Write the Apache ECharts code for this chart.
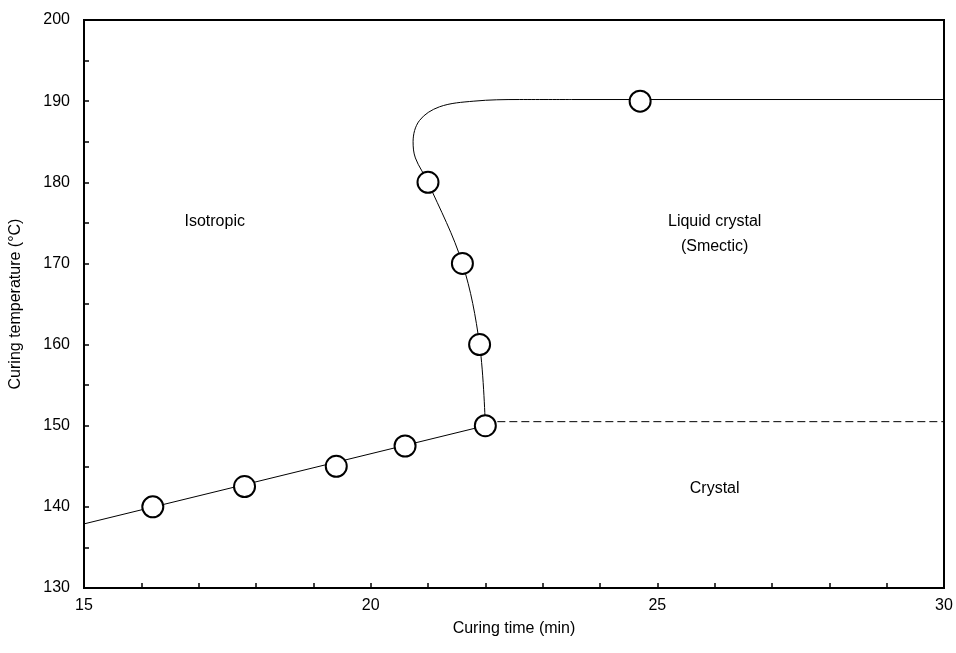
<!DOCTYPE html>
<html>
<head>
<meta charset="utf-8">
<script src="https://cdn.jsdelivr.net/npm/echarts@6/dist/echarts.min.js"></script>
<style>
  html, body { margin: 0; padding: 0; background: #fff; }
  #chart { width: 956px; height: 653px; }
</style>
</head>
<body>
<div id="chart"></div>
<script>
// Measured transition points (curing time in min, curing temperature in °C)
const measured = [
  [16.2, 140], [17.8, 142.5], [19.4, 145], [20.6, 147.5], [22.0, 150],
  [21.9, 160], [21.6, 170], [21.0, 180], [24.7, 190]
];
// Isotropic / crystal boundary (straight fit)
const crystalLine = [[15, 137.9], [22.0, 150]];
// Isotropic / liquid crystal boundary
const lcCurve = [
  [22.0, 150], [21.9, 160], [21.6, 170], [21.0, 180], [20.78, 183],
  [20.74, 185], [20.85, 187.6], [21.2, 189.3], [21.8, 190.0], [22.6, 190.2], [23.5, 190.2]
];
const lcFlat = [[23.5, 190.2], [30, 190.2]];
// Liquid crystal / crystal boundary (dashed)
const smecticCrystal = [[22.0, 150.5], [30, 150.5]];
// Region labels: [time, temperature, text]
const regionLabels = [
  [17.28, 175.2, 'Isotropic'],
  [26.0, 175.2, 'Liquid crystal'],
  [26.0, 172.1, '(Smectic)'],
  [26.0, 142.2, 'Crystal']
];

const font = 'Arial, "Liberation Sans", sans-serif';
const chart = echarts.init(document.getElementById('chart'));

const lineStyle = { color: '#000', width: 1 };

chart.setOption({
  animation: false,
  grid: {
    left: 84, right: 12, top: 20, bottom: 65,
    show: true, borderColor: '#000', borderWidth: 2, backgroundColor: 'transparent'
  },
  xAxis: {
    type: 'value', min: 15, max: 30, interval: 5,
    name: 'Curing time (min)', nameLocation: 'middle', nameGap: 33,
    nameTextStyle: { fontFamily: font, fontSize: 16, color: '#000' },
    axisLine: { show: true, lineStyle: { color: '#000', width: 2 } },
    axisTick: { show: true, inside: true, length: 5, lineStyle: { color: '#000', width: 1.5 } },
    minorTick: { show: true, splitNumber: 5, length: 5, lineStyle: { color: '#000', width: 1.5 } },
    axisLabel: { fontFamily: font, fontSize: 16, color: '#000', margin: 10 },
    splitLine: { show: false }
  },
  yAxis: {
    type: 'value', min: 130, max: 200, interval: 10,
    name: 'Curing temperature (°C)', nameLocation: 'middle', nameGap: 60, nameRotate: 90,
    nameTextStyle: { fontFamily: font, fontSize: 16, color: '#000' },
    axisLine: { show: true, lineStyle: { color: '#000', width: 2 } },
    axisTick: { show: true, inside: true, length: 5, lineStyle: { color: '#000', width: 1.5 } },
    minorTick: { show: true, splitNumber: 2, length: 5, lineStyle: { color: '#000', width: 1.5 } },
    axisLabel: { fontFamily: font, fontSize: 16, color: '#000', margin: 14 },
    splitLine: { show: false }
  },
  series: [
    {
      type: 'line', data: crystalLine, showSymbol: false, symbol: 'none',
      lineStyle: lineStyle, z: 2
    },
    {
      type: 'line', data: lcCurve, showSymbol: false, symbol: 'none', smooth: 0.35,
      lineStyle: lineStyle, z: 2
    },
    {
      type: 'line', data: lcFlat, showSymbol: false, symbol: 'none',
      lineStyle: lineStyle, z: 2
    },
    {
      type: 'line', data: smecticCrystal, showSymbol: false, symbol: 'none',
      lineStyle: { color: '#000', width: 1, type: [8, 4] }, z: 2
    },
    {
      type: 'scatter', data: measured, symbol: 'circle', symbolSize: 21,
      itemStyle: { color: '#fff', borderColor: '#000', borderWidth: 2, opacity: 1 }, z: 5
    },
    {
      type: 'scatter', data: regionLabels.map(d => ({ value: [d[0], d[1]], name: d[2] })),
      symbolSize: 0, z: 6, silent: true,
      itemStyle: { opacity: 1 },
      label: {
        show: true, position: 'inside', formatter: p => p.name,
        fontFamily: font, fontSize: 16, color: '#000', textBorderWidth: 0
      }
    }
  ]
});
</script>
</body>
</html>
